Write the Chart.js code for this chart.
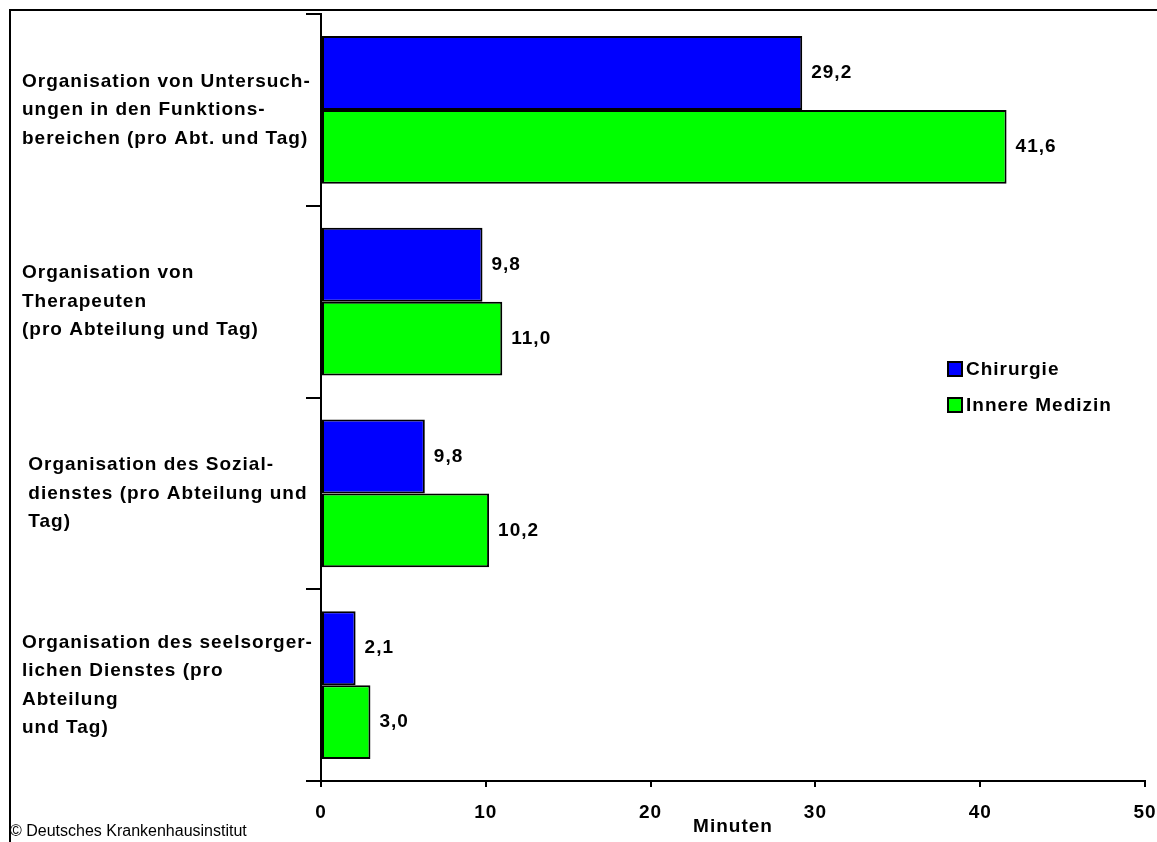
<!DOCTYPE html>
<html>
<head>
<meta charset="utf-8">
<script src="https://cdn.jsdelivr.net/npm/chart.js@4/dist/chart.umd.min.js"></script>
<style>
  html, body { margin: 0; padding: 0; background: #fff; }
  #wrap { width: 1157px; height: 842px; position: relative; }
</style>
</head>
<body>
<div id="wrap"><canvas id="chart"></canvas></div>
<script>
// Categories (one array of lines per bar group)
let categories = [
  ['Organisation von Untersuch-', 'ungen in den Funktions-', 'bereichen (pro Abt. und Tag)'],
  ['Organisation von', 'Therapeuten', '(pro Abteilung und Tag)'],
  [' Organisation des Sozial-', ' dienstes (pro Abteilung und', ' Tag)'],
  ['Organisation des seelsorger-', 'lichen Dienstes (pro', 'Abteilung', 'und Tag)']
];

// Bar lengths as drawn
let chirurgie = [29.2, 9.8, 6.3, 2.1];
let innereMedizin = [41.6, 11.0, 10.2, 3.0];

// Value labels as printed next to the bars
let chirurgieLabels = ['29,2', '9,8', '9,8', '2,1'];
let innereMedizinLabels = ['41,6', '11,0', '10,2', '3,0'];

let xTicks = [0, 10, 20, 30, 40, 50];

let font = 'Arial, "Liberation Sans", sans-serif';
Chart.defaults.color = '#000';
Chart.defaults.font.family = font;

// Letter spacing like the original slide
let spacing = {
  id: 'spacing',
  beforeDraw(chart) {
    chart.ctx.letterSpacing = '1px';
  }
};

// Frame round the slide and the copyright line
let frame = {
  id: 'frame',
  beforeDraw(chart) {
    let ctx = chart.ctx;
    ctx.save();
    ctx.strokeStyle = '#000';
    ctx.lineWidth = 2;
    ctx.strokeRect(10, 10, 1400, 1000);
    ctx.restore();
  },
  afterDraw(chart) {
    let ctx = chart.ctx;
    ctx.save();
    ctx.letterSpacing = '0px';
    ctx.font = '16px ' + font;
    ctx.fillStyle = '#000';
    ctx.textBaseline = 'middle';
    ctx.fillText('\u00A9 Deutsches Krankenhausinstitut', 10, 832);
    ctx.restore();
  }
};

// Numbers at the end of each bar
let valueLabels = {
  id: 'valueLabels',
  afterDatasetsDraw(chart) {
    let ctx = chart.ctx;
    let texts = [chirurgieLabels, innereMedizinLabels];
    ctx.save();
    ctx.font = 'bold 19px ' + font;
    ctx.fillStyle = '#000';
    ctx.textBaseline = 'middle';
    chart.data.datasets.forEach((ds, i) => {
      chart.getDatasetMeta(i).data.forEach((bar, j) => {
        ctx.fillText(texts[i][j], bar.x + 9, bar.y);
      });
    });
    ctx.restore();
  }
};

// Legend inside the plot, right of the short bars
let boxLegend = {
  id: 'boxLegend',
  afterDraw(chart) {
    let ctx = chart.ctx;
    ctx.save();
    ctx.font = 'bold 19px ' + font;
    ctx.textBaseline = 'middle';
    chart.data.datasets.forEach((ds, i) => {
      let y = 369 + i * 36;
      ctx.fillStyle = ds.backgroundColor;
      ctx.fillRect(948, y - 7, 14, 14);
      ctx.strokeStyle = '#000';
      ctx.lineWidth = 2;
      ctx.strokeRect(948, y - 7, 14, 14);
      ctx.fillStyle = '#000';
      ctx.fillText(ds.label, 966, y + 1);
    });
    ctx.restore();
  }
};

let ctx = document.getElementById('chart');

let chart = new Chart(ctx, {
  type: 'bar',
  data: {
    labels: categories,
    datasets: [
      {label: 'Chirurgie', data: chirurgie, backgroundColor: '#0000FF', borderColor: '#000', borderWidth: 2, borderSkipped: false},
      {label: 'Innere Medizin', data: innereMedizin, backgroundColor: '#00FF00', borderColor: '#000', borderWidth: 2, borderSkipped: false}
    ]
  },
  options: {
    indexAxis: 'y',
    responsive: true,
    maintainAspectRatio: false,
    animation: false,
    events: [],
    layout: {padding: {left: 22, top: 14, right: 12, bottom: 0}},
    datasets: {bar: {categoryPercentage: 0.77, barPercentage: 1.0}},
    plugins: {legend: {display: false}, tooltip: {enabled: false}},
    scales: {
      x: {
        min: 0,
        max: 50,
        afterBuildTicks(scale) {
          scale.ticks = xTicks.map(v => ({value: v}));
        },
        afterFit(scale) {
          scale.height = 61;
          scale.paddingLeft = 0;
          scale.paddingRight = 0;
        },
        grid: {drawOnChartArea: false, color: '#000', lineWidth: 2, tickLength: 6},
        border: {display: true, color: '#000', width: 2},
        ticks: {font: {size: 19, weight: 'bold'}, padding: 14, maxRotation: 0},
        title: {display: true, text: 'Minuten', font: {size: 19, weight: 'bold'}, padding: {top: 0, bottom: 4}}
      },
      y: {
        afterFit(scale) {
          scale.width = 299;
          scale.paddingTop = 0;
          scale.paddingBottom = 0;
        },
        grid: {offset: true, drawOnChartArea: false, color: '#000', lineWidth: 2, tickLength: 15},
        border: {display: true, color: '#000', width: 2},
        ticks: {crossAlign: 'far', font: {size: 19, weight: 'bold', lineHeight: 1.5}}
      }
    }
  },
  plugins: [spacing, frame, valueLabels, boxLegend]
});
</script>
</body>
</html>
